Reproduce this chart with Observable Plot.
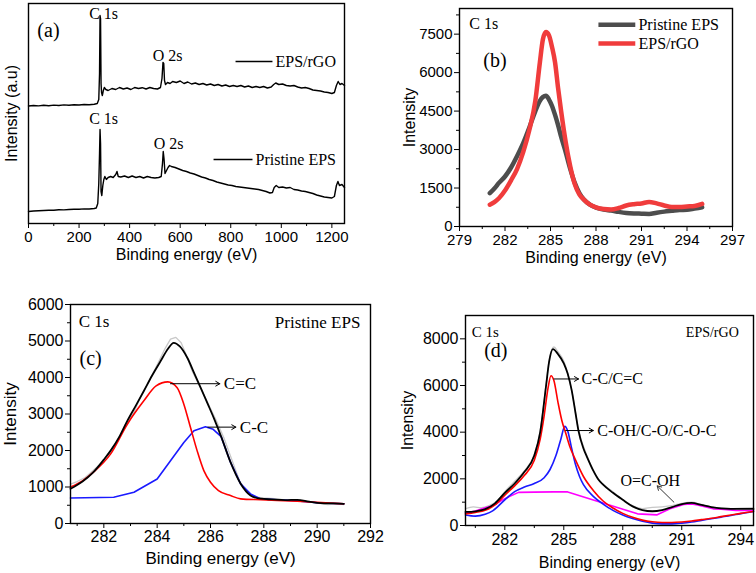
<!DOCTYPE html>
<html><head><meta charset="utf-8">
<script src="https://cdn.jsdelivr.net/npm/d3@7"></script>
<script src="https://cdn.jsdelivr.net/npm/@observablehq/plot@0.6"></script>
<style>
html,body{margin:0;padding:0;background:#fff;}
#fig{position:relative;width:756px;height:573px;overflow:hidden;background:#fff;}
</style></head><body><div id="fig"></div>
<script>
// ================= DATA =================
// (a) XPS survey spectra (intensity in arbitrary units, curves offset)
const aEnergyRGO = [0,20,40,60,80,100,120,140,160,180,200,220,240,260,272,278,281,283,285,287,289,292,296,300,306,315,330,345,360,375,390,405,420,435,450,465,480,495,510,522,528,532,535,538,542,550,560,570,585,600,615,630,645,660,675,690,705,720,735,750,765,780,795,810,825,840,855,870,885,900,915,930,945,960,970,978,990,1005,1020,1035,1050,1065,1080,1095,1110,1125,1140,1155,1170,1185,1200,1210,1218,1225,1232,1240,1250];
const aIntensityRGO = [117.5,118,117.6,118.2,117.8,118.4,118,118.6,118.3,118.8,118.5,119,118.7,119.2,120,124,150,208,205,140,131,128,133,136,134,133,135,134,136,134.5,135.5,134,136,135,135.8,134.5,136,135,134.5,136,145,161,160,143,139,141,140,142,141,142.5,140,141.5,139.5,140.5,139,140,138.5,139.5,138,139,137.5,138.5,137,138,137,138,136.5,137.5,136,137,136,137,135.5,136.5,139,140.5,139,139.5,138,137.5,138,136.5,135.5,136,135,133.5,133,132.5,131.5,131,130,131,138,142,139,140,138];
const aEnergyPristine = [0,20,40,60,80,100,120,140,160,180,200,220,240,260,268,274,278,281,283,285,287,290,294,298,302,308,315,325,335,345,350,355,365,380,395,410,425,440,455,470,485,500,515,525,530,533,536,540,546,552,558,565,580,595,610,625,640,655,670,685,700,715,730,745,760,775,790,805,820,835,850,865,880,895,910,925,940,955,965,972,980,990,1005,1020,1035,1050,1065,1080,1095,1110,1125,1140,1155,1170,1185,1200,1210,1218,1224,1230,1240,1250];
const aIntensityPristine = [12,12.5,12.8,13,13.3,13.2,13.8,13.6,14,14.2,14.3,14.6,14.5,15,15.5,20,40,70,94,80,32,28,38,44,47,44,46,47,46,49,52,47,46.5,47.5,46,47.5,46,47,45.5,47,46,45.5,46,47,60,72,65,50,53,56,58,57,56,54.5,53,52,50.5,49.5,48,46.5,45.5,44,43,41.5,40.5,39.5,38.5,38,37,36.5,36,35.5,35,34.5,34,33,32,30.5,31,36,38,36,36.5,35.5,36,34,33.5,32.5,32,31,30,28.5,27.5,26.5,26,25.5,27,38,42,38,39,36];
const aXTicks = [0,200,400,600,800,1000,1200];
const aXMinor = [100,300,500,700,900,1100];
const aLabelText = ["(a)","C 1s","O 2s","C 1s","O 2s"];
const aLabelX = [35,297,550,297,554];
const aLabelY = [193,210,168,105,80];
const aLegendNames = ["EPS/rGO","Pristine EPS"];
const aLegendX1 = [819,732];
const aLegendX2 = [965,886];
const aLegendY = [162,64];

// (b) C 1s high-resolution comparison
const bEnergy = [281.0,281.3,281.6,282.0,282.4,282.8,283.2,283.6,284.0,284.3,284.5,284.7,284.9,285.1,285.3,285.5,285.7,286.0,286.3,286.6,286.9,287.2,287.6,288.0,288.5,289.0,289.5,290.0,290.5,291.0,291.5,292.0,292.5,293.0,293.5,294.0,294.5,295.0];
const bPristine = [1300,1480,1700,1950,2300,2750,3250,3850,4500,4900,5050,5100,4950,4700,4350,3950,3500,2900,2250,1700,1300,1050,850,740,660,620,570,530,510,500,490,540,580,610,640,650,700,750];
const bRGO = [850,950,1100,1400,1800,2250,2900,3750,4900,6400,7300,7580,7450,7000,6400,5400,4500,3300,2350,1650,1250,1050,850,750,680,660,720,820,870,900,960,900,820,760,760,780,800,880];
const bXTicks = [279,282,285,288,291,294,297];
const bXMinor = [280.5,283.5,286.5,289.5,292.5,295.5];
const bYTicks = [0,1500,3000,4500,6000,7500];
const bYMinor = [750,2250,3750,5250,6750,8250];
const bSeriesNames = ["Pristine EPS","EPS/rGO"];
const bLegendY = [7862,7134];

// (c) Pristine EPS C 1s deconvolution
const cRawE = [280.75,281.0,281.3,281.6,281.9,282.2,282.5,282.8,283.1,283.4,283.7,284.0,284.3,284.5,284.7,284.9,285.1,285.3,285.6,285.9,286.2,286.5,286.8,287.1,287.4,287.7,288.0,288.4,288.8,289.2,289.6,290.0,290.4,290.8,291.0];
const cRawI = [1080,1150,1260,1450,1650,1950,2250,2700,3000,3500,3900,4350,4800,5050,5100,4950,4600,4200,3750,3300,2850,2350,1750,1150,850,720,700,680,650,640,600,560,520,540,520];
const cEnvE = [280.75,281.2,281.6,282.0,282.25,282.6,282.88,283.2,283.5,283.8,284.13,284.4,284.62,284.85,285.13,285.4,285.63,285.9,286.13,286.4,286.75,287.13,287.5,287.88,288.3,288.8,289.25,289.7,290.13,290.6,291.0];
const cEnvI = [950,1150,1400,1750,1990,2400,2810,3230,3630,4040,4450,4780,4950,4850,4540,4100,3720,3270,2880,2380,1680,1090,770,680,660,640,650,600,560,550,540];
const cCCdE = [280.75,281.2,281.6,282.25,282.88,283.5,283.96,284.4,284.75,285.0,285.25,285.5,285.75,286.0,286.3,286.75,287.13,287.88,289.25,291.0];
const cCCdI = [1000,1170,1400,1900,2720,3360,3770,3880,3720,3270,2630,1990,1450,1130,900,765,675,650,610,540];
const cCCsE = [280.75,282.37,283.13,284.0,284.5,285.0,285.38,285.81,286.1,286.4,286.75,287.13,287.5,287.88,288.5,289.25,290.13,291.0];
const cCCsI = [700,720,856,1220,1720,2220,2540,2650,2580,2380,1680,1085,810,675,650,620,560,540];
const cXTicks = [282,284,286,288,290,292];
const cXMinor = [281,283,285,287,289,291];
const cYTicks = [0,1000,2000,3000,4000,5000,6000];
const cYMinor = [500,1500,2500,3500,4500,5500];
const cPeakNames = ["C=C","C-C"];
const cArrowX1 = [284.5,285.9];
const cArrowX2 = [286.35,286.95];
const cArrowY = [3830,2640];
const cPeakLabelX = [286.5,287.1];

// (d) EPS/rGO C 1s deconvolution
const dRawE = [280.0,280.4,280.8,281.2,281.6,282.0,282.5,283.0,283.5,283.8,284.1,284.3,284.5,284.7,285.0,285.4,285.75,286.2,286.75,287.5,288.0,288.5,289.0,289.5,290.0,290.5,291.0,291.5,292.0,292.5,293.0,293.5,294.0,294.65];
const dRawI = [720,800,760,850,1050,1450,1900,2350,3050,4050,6050,7300,7650,7450,7050,5800,4100,2950,2000,1450,1100,850,720,780,800,850,950,1000,900,800,740,720,740,760];
const dEnvE = [280.0,280.5,281.0,281.5,282.0,282.5,283.0,283.5,283.8,284.1,284.25,284.45,284.7,285.0,285.2,285.4,285.6,285.75,286.0,286.2,286.5,286.75,287.0,287.5,288.0,288.5,289.0,289.5,290.0,290.5,291.0,291.5,292.0,292.5,293.0,293.5,294.0,294.65];
const dEnvI = [580,610,700,950,1400,1800,2300,3000,4000,6000,7000,7560,7350,6950,6500,5800,4800,4050,3300,2900,2350,1980,1750,1400,1100,820,660,610,660,790,920,970,880,790,730,710,710,710];
const dCCE = [280.0,280.5,281.0,281.5,282.0,282.5,283.0,283.5,283.8,284.0,284.2,284.35,284.5,284.7,284.9,285.1,285.3,285.6,286.0,286.5,287.0,287.5,288.0,288.5,289.0,289.5,290.0,290.5,291.0,291.5,292.0,292.5,293.0,293.5,294.0,294.65];
const dCCI = [500,560,650,880,1300,1700,2150,2800,3700,4700,5900,6420,6200,5300,4500,3950,3400,2800,2100,1500,1050,750,520,350,230,160,130,130,150,190,250,310,380,450,520,600];
const dCOE = [280.0,280.5,281.0,281.4,282.0,282.5,283.0,283.5,284.0,284.3,284.6,284.85,285.05,285.2,285.4,285.6,285.8,286.0,286.5,287.0,287.5,288.0,288.5,289.0,289.5,290.0,290.5,291.0,291.5,292.0,292.5,293.0,293.5,294.0,294.65];
const dCOI = [450,400,480,640,1100,1450,1650,1800,2050,2400,3000,3700,4250,4050,3300,2600,2100,1750,1250,920,650,450,300,180,100,70,70,100,150,220,290,360,430,510,600];
const dOCOE = [280.0,280.5,281.0,281.4,282.0,282.7,283.5,284.5,285.2,288.75,289.75,290.4,291.1,291.5,291.8,292.6,293.0,293.75,294.65];
const dOCOI = [520,620,760,860,1150,1420,1430,1440,1440,500,457,714,900,920,880,714,700,650,645];
const dXTicks = [282,285,288,291,294];
const dXMinor = [280.5,283.5,286.5,289.5,292.5];
const dYTicks = [0,2000,4000,6000,8000];
const dYMinor = [1000,3000,5000,7000];
const dPeakNames = ["C-C/C=C","C-OH/C-O/C-O-C"];
const dArrowX1 = [284.5,285.1];
const dArrowX2 = [285.75,286.5];
const dArrowY = [6280,4070];
const dPeakLabelX = [285.9,286.7];
const dAcidName = "O=C-OH";
const dAcidArrow = {x1: 290.6, y1: 1000, x2: 289.75, y2: 1700};
const dAcidLabel = {x: 289.4, y: 1930};

// ================= DRAWING =================
const SANS = "Liberation Sans, Arial, sans-serif";
const SERIF = "Liberation Serif, Times New Roman, serif";
const fig = document.getElementById("fig");
const zipXY = (xs, ys) => xs.map((x, i) => ({x, y: ys[i]}));
const fmt = d => String(d);

function panel(cfg) {
  const marks = [
    ...cfg.marks,
    Plot.frame({stroke: "black", strokeWidth: 1.4}),
    Plot.axisX({ticks: cfg.xTicks, tickSize: 5, tickPadding: cfg.tickPad ?? 3, tickFormat: fmt, label: null, fontSize: cfg.tickFont, fontFamily: SANS}),
    Plot.axisX({ticks: cfg.xMinor, tickSize: 3, tickFormat: () => "", label: null}),
    cfg.yTicks ? Plot.axisY({ticks: cfg.yTicks, tickSize: 5, tickPadding: 2, tickFormat: fmt, label: null, fontSize: cfg.tickFont, fontFamily: SANS}) : null,
    cfg.yMinor ? Plot.axisY({ticks: cfg.yMinor, tickSize: 3, tickFormat: () => "", label: null}) : null,
    Plot.text([cfg.xLabel], {frameAnchor: "bottom", dy: cfg.xLabelDy, lineAnchor: "middle", textAnchor: "middle", fontSize: cfg.labelFont, fontFamily: SANS, fill: "black"}),
    Plot.text([cfg.yLabel], {frameAnchor: "left", dx: cfg.yLabelDx, rotate: -90, lineAnchor: "middle", textAnchor: "middle", fontSize: cfg.labelFont, fontFamily: SANS, fill: "black"})
  ].filter(Boolean);
  const svg = Plot.plot({
    width: cfg.width, height: cfg.height,
    marginTop: cfg.mt, marginRight: cfg.mr, marginBottom: cfg.mb, marginLeft: cfg.ml,
    style: {fontFamily: SANS, fontSize: cfg.tickFont + "px", background: "transparent", color: "black", overflow: "visible"},
    x: {domain: cfg.xDomain, axis: null},
    y: {domain: cfg.yDomain, axis: null},
    marks
  });
  svg.style.position = "absolute";
  svg.style.left = cfg.left + "px";
  svg.style.top = cfg.top + "px";
  fig.appendChild(svg);
}

// ---- (a)
const aLabels = aLabelText.map((t, i) => ({t, x: aLabelX[i], y: aLabelY[i]}));
const aLegend = aLegendNames.map((t, i) => ({t, x1: aLegendX1[i], x2: aLegendX2[i], y: aLegendY[i]}));
panel({
  left: 0, top: 0, width: 378, height: 270, mt: 3, mr: 34, mb: 47, ml: 28,
  xDomain: [0, 1250], yDomain: [0, 220],
  xTicks: aXTicks, xMinor: aXMinor, yTicks: null, yMinor: null,
  tickFont: 15, labelFont: 16,
  xLabel: "Binding energy (eV)", xLabelDy: 31,
  yLabel: "Intensity (a.u)", yLabelDx: -17,
  marks: [
    Plot.line(zipXY(aEnergyRGO, aIntensityRGO), {x: "x", y: "y", stroke: "black", strokeWidth: 1.4}),
    Plot.line(zipXY(aEnergyPristine, aIntensityPristine), {x: "x", y: "y", stroke: "black", strokeWidth: 1.4}),
    Plot.text(aLabels.slice(0, 1), {x: "x", y: "y", text: "t", textAnchor: "start", fontSize: 20, fontFamily: SERIF, fill: "black"}),
    Plot.text(aLabels.slice(1), {x: "x", y: "y", text: "t", fontSize: 16, fontFamily: SERIF, fill: "black"}),
    Plot.link(aLegend, {x1: "x1", x2: "x2", y1: "y", y2: "y", stroke: "black", strokeWidth: 1.6}),
    Plot.text(aLegend, {x: d => d.x2 + 12, y: "y", text: "t", textAnchor: "start", fontSize: 16, fontFamily: SERIF, fill: "black"})
  ]
});

// ---- (b)
const bColors = ["#4d4d4d", "#f03c3c"];
const bLegend = bSeriesNames.map((t, i) => ({t, y: bLegendY[i], c: bColors[i]}));
panel({
  left: 378, top: 0, width: 378, height: 270, mt: 8, mr: 24, mb: 44, ml: 81,
  xDomain: [279, 297], yDomain: [0, 8500],
  xTicks: bXTicks, xMinor: bXMinor, yTicks: bYTicks, yMinor: bYMinor,
  tickFont: 15, labelFont: 16,
  xLabel: "Binding energy (eV)", xLabelDy: 31,
  yLabel: "Intensity", yLabelDx: -50,
  marks: [
    Plot.line(zipXY(bEnergy, bPristine), {x: "x", y: "y", stroke: bColors[0], strokeWidth: 4.5, curve: "monotone-x"}),
    Plot.line(zipXY(bEnergy, bRGO), {x: "x", y: "y", stroke: bColors[1], strokeWidth: 4.5, curve: "monotone-x"}),
    Plot.text(["C 1s"], {x: 279.65, y: 7890, textAnchor: "start", fontSize: 16, fontFamily: SERIF, fill: "black"}),
    Plot.text(["(b)"], {x: 280.57, y: 6461, textAnchor: "start", fontSize: 20, fontFamily: SERIF, fill: "black"}),
    Plot.link(bLegend, {x1: 288.16, x2: 290.59, y1: "y", y2: "y", stroke: "c", strokeWidth: 4.5}),
    Plot.text(bLegend, {x: 290.8, y: "y", text: "t", textAnchor: "start", fontSize: 16, fontFamily: SERIF, fill: "black"})
  ]
});

// ---- (c)
const cPeaks = cPeakNames.map((t, i) => ({t, x1: cArrowX1[i], x2: cArrowX2[i], y: cArrowY[i], lx: cPeakLabelX[i]}));
panel({
  left: 0, top: 270, width: 378, height: 303, mt: 34, mr: 8, mb: 50, ml: 70,
  xDomain: [280.75, 292], yDomain: [0, 6000],
  xTicks: cXTicks, xMinor: cXMinor, yTicks: cYTicks, yMinor: cYMinor,
  tickFont: 16, tickPad: 2, labelFont: 17,
  xLabel: "Binding energy (eV)", xLabelDy: 35,
  yLabel: "Intensity", yLabelDx: -60,
  marks: [
    Plot.line(zipXY(cRawE, cRawI), {x: "x", y: "y", stroke: "#c8c8c8", strokeWidth: 1.3}),
    Plot.line(zipXY(cCCsE, cCCsI), {x: "x", y: "y", stroke: "#1a1aff", strokeWidth: 1.6}),
    Plot.line(zipXY(cCCdE, cCCdI), {x: "x", y: "y", stroke: "#ff0000", strokeWidth: 1.6, curve: "monotone-x"}),
    Plot.line(zipXY(cEnvE, cEnvI), {x: "x", y: "y", stroke: "black", strokeWidth: 1.8, curve: "monotone-x"}),
    Plot.arrow(cPeaks, {x1: "x1", x2: "x2", y1: "y", y2: "y", stroke: "black", strokeWidth: 1, headLength: 7}),
    Plot.text(cPeaks, {x: "lx", y: "y", text: "t", textAnchor: "start", fontSize: 17, fontFamily: SERIF, fill: "black"}),
    Plot.text(["C 1s"], {x: 281.06, y: 5546, textAnchor: "start", fontSize: 17, fontFamily: SERIF, fill: "black"}),
    Plot.text(["(c)"], {x: 281.09, y: 4508, textAnchor: "start", fontSize: 20, fontFamily: SERIF, fill: "black"}),
    Plot.text(["Pristine EPS"], {x: 291.62, y: 5500, textAnchor: "end", fontSize: 17, fontFamily: SERIF, fill: "black"})
  ]
});

// ---- (d)
const dPeaks = dPeakNames.map((t, i) => ({t, x1: dArrowX1[i], x2: dArrowX2[i], y: dArrowY[i], lx: dPeakLabelX[i]}));
panel({
  left: 378, top: 270, width: 378, height: 303, mt: 45, mr: 3, mb: 48, ml: 87,
  xDomain: [280, 294.65], yDomain: [0, 9000],
  xTicks: dXTicks, xMinor: dXMinor, yTicks: dYTicks, yMinor: dYMinor,
  tickFont: 16, labelFont: 16,
  xLabel: "Binding energy (eV)", xLabelDy: 37,
  yLabel: "Intensity", yLabelDx: -58,
  marks: [
    Plot.line(zipXY(dRawE, dRawI), {x: "x", y: "y", stroke: "#c8c8c8", strokeWidth: 1.3, curve: "monotone-x"}),
    Plot.line(zipXY(dOCOE, dOCOI), {x: "x", y: "y", stroke: "#ff00ff", strokeWidth: 1.6}),
    Plot.line(zipXY(dCOE, dCOI), {x: "x", y: "y", stroke: "#1a1aff", strokeWidth: 1.6, curve: "monotone-x"}),
    Plot.line(zipXY(dCCE, dCCI), {x: "x", y: "y", stroke: "#ff0000", strokeWidth: 1.6, curve: "monotone-x"}),
    Plot.line(zipXY(dEnvE, dEnvI), {x: "x", y: "y", stroke: "black", strokeWidth: 1.8, curve: "monotone-x"}),
    Plot.arrow(dPeaks, {x1: "x1", x2: "x2", y1: "y", y2: "y", stroke: "black", strokeWidth: 1, headLength: 7}),
    Plot.text(dPeaks, {x: "lx", y: "y", text: "t", textAnchor: "start", fontSize: 16, fontFamily: SERIF, fill: "black"}),
    Plot.arrow([dAcidArrow], {x1: "x1", y1: "y1", x2: "x2", y2: "y2", stroke: "#333", strokeWidth: 1, headLength: 7}),
    Plot.text([dAcidName], {x: dAcidLabel.x, y: dAcidLabel.y, fontSize: 16, fontFamily: SERIF, fill: "black"}),
    Plot.text(["C 1s"], {x: 280.32, y: 8285, textAnchor: "start", fontSize: 15, fontFamily: SERIF, fill: "black"}),
    Plot.text(["(d)"], {x: 280.95, y: 7500, textAnchor: "start", fontSize: 20, fontFamily: SERIF, fill: "black"}),
    Plot.text(["EPS/rGO"], {x: 293.9, y: 8285, textAnchor: "end", fontSize: 14, fontFamily: SERIF, fill: "black"})
  ]
});
</script>
</body></html>
